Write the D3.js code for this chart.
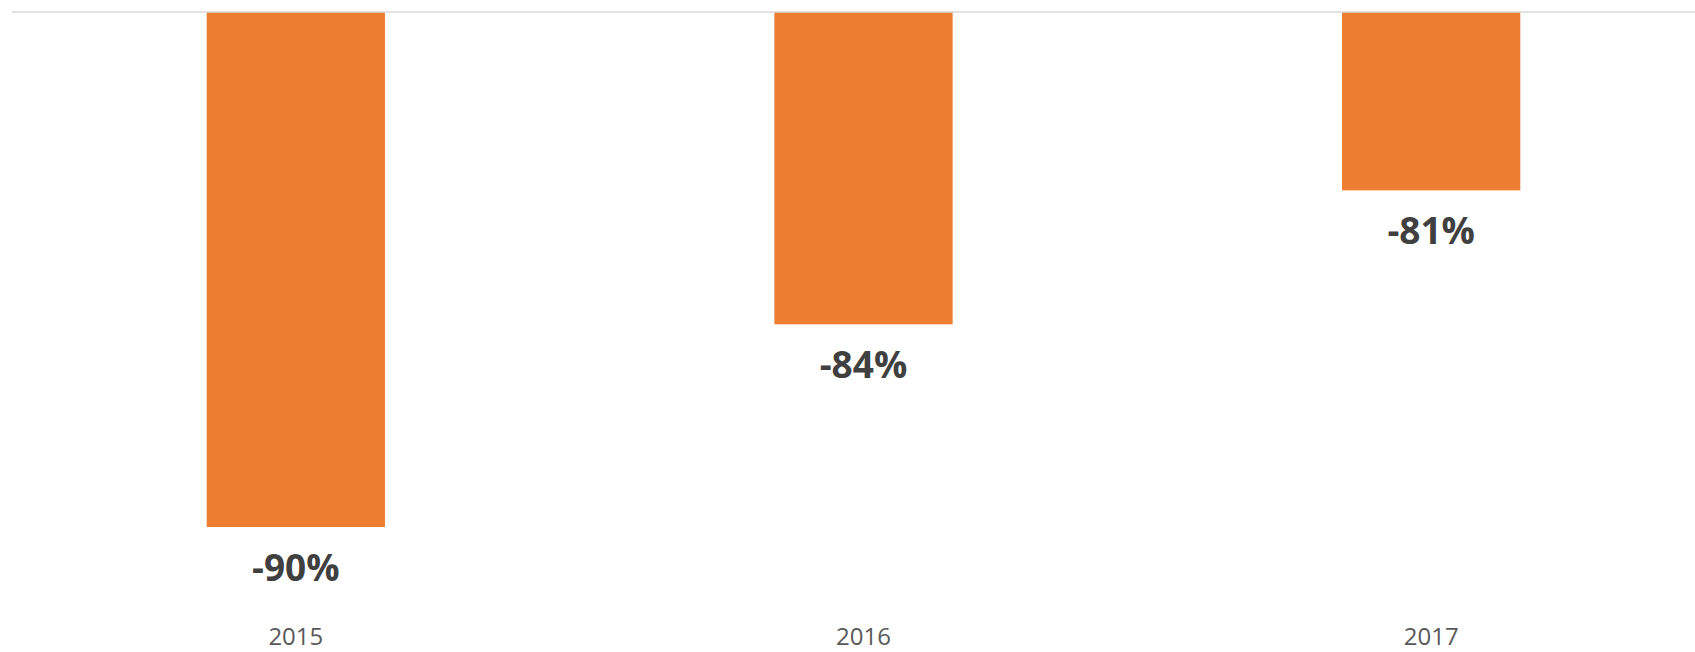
<!DOCTYPE html>
<html>
<head>
<meta charset="utf-8">
<script src="https://cdn.jsdelivr.net/npm/d3@7/dist/d3.min.js"></script>
<style>
  html, body { margin: 0; padding: 0; background: #fff; }
  svg { display: block; }
</style>
</head>
<body>
<svg id="chart" width="1695" height="652"></svg>
<script>
// Data
const categories = ["2015", "2016", "2017"];
const values = [-0.9015, -0.8440, -0.8060];
const valueLabels = ["-90%", "-84%", "-81%"];

const W = 1695, H = 652;
const svg = d3.select("#chart");

const x = d3.scaleBand()
  .domain(categories)
  .range([12, 1715])
  .paddingInner(0.686)
  .paddingOuter(0.343);

const y = d3.scaleLinear()
  .domain([-0.7554, -0.9015])
  .range([12, 527]);

const barG = svg.append("g");
barG.selectAll("rect")
  .data(categories)
  .join("rect")
  .attr("x", d => x(d))
  .attr("width", x.bandwidth())
  .attr("y", y(-0.7554))
  .attr("height", (d, i) => y(values[i]) - y(-0.7554))
  .attr("fill", "#ED7D31");

// axis line at top (category axis)
const xAxis = d3.axisTop(x).tickSize(0).tickFormat("");
const axG = svg.append("g")
  .attr("transform", `translate(0,${y(-0.7554)})`)
  .call(xAxis);
axG.select(".domain").attr("stroke", "#d9d9d9").attr("stroke-width", 1.5)
  .attr("d", `M12,0H1715`);

// value labels
svg.append("g").selectAll("text")
  .data(categories)
  .join("text")
  .attr("x", d => x(d) + x.bandwidth() / 2)
  .attr("y", (d, i) => y(values[i]) + 54)
  .attr("text-anchor", "middle")
  .attr("font-family", "'Open Sans', sans-serif")
  .attr("font-weight", "bold")
  .attr("font-size", 37)
  .attr("fill", "#404040")
  .text((d, i) => valueLabels[i]);

// category labels at bottom
svg.append("g").selectAll("text")
  .data(categories)
  .join("text")
  .attr("x", d => x(d) + x.bandwidth() / 2)
  .attr("y", 645)
  .attr("text-anchor", "middle")
  .attr("font-family", "'Open Sans', sans-serif")
  .attr("font-size", 24)
  .attr("fill", "#595959")
  .text(d => d);
</script>
</body>
</html>
